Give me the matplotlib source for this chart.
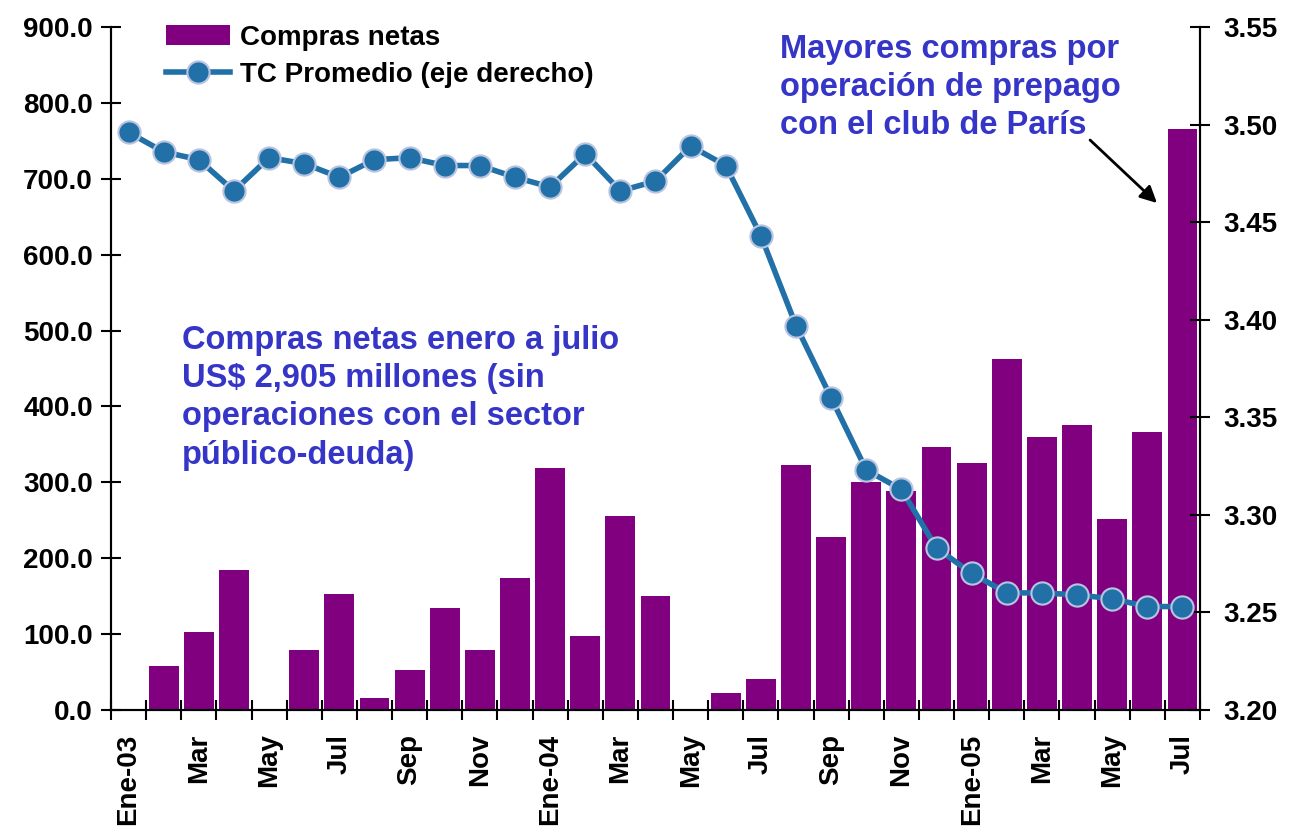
import numpy as np
import matplotlib
matplotlib.use("Agg")
import matplotlib.pyplot as plt

plt.rcParams['font.family'] = ['Liberation Sans', 'DejaVu Sans']
plt.rcParams['font.weight'] = 'bold'

# meses ene-03 .. jul-05
meses = ["Ene-03", "Feb", "Mar", "Abr", "May", "Jun", "Jul", "Ago", "Sep", "Oct", "Nov", "Dic",
         "Ene-04", "Feb", "Mar", "Abr", "May", "Jun", "Jul", "Ago", "Sep", "Oct", "Nov", "Dic",
         "Ene-05", "Feb", "Mar", "Abr", "May", "Jun", "Jul"]
compras = [0, 58, 103, 185, 0, 79, 153, 16, 53, 135, 79, 174,
           319, 98, 256, 150, 0, 22, 41, 323, 228, 300, 289, 347,
           326, 463, 360, 376, 252, 366, 765]
tc = [3.496, 3.486, 3.482, 3.466, 3.483, 3.480, 3.473, 3.482, 3.483, 3.479, 3.479, 3.473,
      3.468, 3.485, 3.466, 3.471, 3.489, 3.479, 3.443, 3.397, 3.360, 3.323, 3.313, 3.283,
      3.270, 3.260, 3.260, 3.259, 3.257, 3.253, 3.253]

purpura = "#800080"
azul = "#2170a8"
texto_azul = "#3535c8"

fig = plt.figure(figsize=(12.92, 8.3), dpi=100)
ax = fig.add_axes([0.0859, 0.1446, 0.8429, 0.8229])
ax2 = ax.twinx()

x = np.arange(len(meses))
ax.bar(x, compras, width=0.85, color=purpura, label="Compras netas", zorder=2)
ax.set_ylim(0, 900)
ax.set_xlim(-0.5, len(meses) - 0.5)
ax.set_yticks(np.arange(0, 901, 100))
ax.set_yticklabels([f"{v:.1f}" for v in np.arange(0, 901, 100)])

ax2.plot(x, tc, color=azul, lw=4, marker="o", ms=16, markerfacecolor=azul,
         markeredgecolor="#b8c4e0", markeredgewidth=1.5, label="TC Promedio (eje derecho)", zorder=3)
ax2.set_ylim(3.20, 3.55)
ax2.set_yticks(np.arange(3.20, 3.551, 0.05))
ax2.set_yticklabels([f"{v:.2f}" for v in np.arange(3.20, 3.551, 0.05)])

# ticks en bordes de categoria, etiquetas cada dos meses
ax.set_xticks(np.arange(-0.5, len(meses), 1))
ax.set_xticklabels([])
ax.set_xticks(x[::2], minor=True)
ax.set_xticklabels(meses[::2], minor=True, rotation=90, fontsize=20, fontweight="bold")
ax.tick_params(axis="x", which="minor", length=0, pad=17)
ax.tick_params(axis="x", which="major", direction="inout", length=14, width=1.5)
ax.tick_params(axis="y", direction="inout", length=14, width=1.5, labelsize=20, pad=6)
ax2.tick_params(axis="y", direction="inout", length=14, width=1.5, labelsize=20, pad=10)

for a in (ax, ax2):
    a.spines["top"].set_visible(False)
    for s in ("left", "right", "bottom"):
        a.spines[s].set_linewidth(1.5)
ax.set_zorder(ax2.get_zorder() - 1)
ax.patch.set_visible(False)

h1, l1 = ax.get_legend_handles_labels()
h2, l2 = ax2.get_legend_handles_labels()
ax2.legend(h1 + h2, l1 + l2, loc="upper left", bbox_to_anchor=(0.028, 1.04), frameon=False,
           prop={"size": 20, "weight": "bold"}, handlelength=2.3, handletextpad=0.35, labelspacing=0.4)

fig.text(0.141, 0.6084, "Compras netas enero a julio\nUS$ 2,905 millones (sin\noperaciones con el sector\npúblico-deuda)",
         color=texto_azul, fontsize=23.5, fontweight="bold", va="top", linespacing=1.3)
fig.text(0.604, 0.959, "Mayores compras por\noperación de prepago\ncon el club de París",
         color=texto_azul, fontsize=23.5, fontweight="bold", va="top", linespacing=1.3)
# flecha hacia el ultimo mes
ax2.annotate("", xy=(0.8955, 0.7554), xycoords="figure fraction",
             xytext=(0.8437, 0.8313), textcoords="figure fraction",
             arrowprops=dict(arrowstyle="-|>", color="black", lw=2, mutation_scale=25,
                             shrinkA=0, shrinkB=0))

fig.savefig("out.png", dpi=100)
